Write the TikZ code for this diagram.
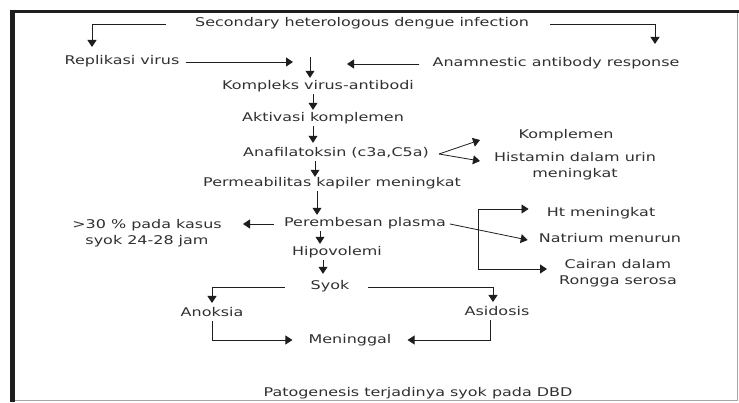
\documentclass[tikz,border=0pt]{standalone}
\usepackage{fontspec}
\setmainfont{DejaVu Sans}[FakeStretch=1.33]
\usetikzlibrary{arrows.meta}
\definecolor{txtc}{HTML}{303030}
\definecolor{linec}{HTML}{1E1E1E}
\newcommand{\fsz}{\fontsize{12}{15.5}\selectfont}
\tikzset{
  lbl/.style={inner sep=1pt, text=txtc, font=\fsz, align=center, text height=9pt, text depth=3pt},
  ln/.style={draw=linec, line width=0.8pt},
  arr/.style={draw=linec, line width=0.8pt, -{Triangle[length=7pt,width=9pt]}},
}
\begin{document}
\begin{tikzpicture}[x=1pt,y=-1pt]
\useasboundingbox (0,0) rectangle (739,403);
\fill[white] (0,0) rectangle (739,403);
% frame
\draw[line width=0.9pt, draw=gray!70] (12,11.5) -- (737.5,11.5) -- (737.5,400.5) -- (12,400.5);
\draw[line width=3.2pt, draw=linec] (10,11.5) -- (739,11.5);
\draw[line width=4.2pt, draw=linec] (12.5,10) -- (12.5,402);

% nodes
\node[lbl] (sec) at (362,24) {Secondary heterologous dengue infection};
\node[lbl] (rep) at (122,62) {Replikasi virus};
\node[lbl] (ana) at (556,64) {Anamnestic antibody response};
\node[lbl] (kom) at (318,87) {Kompleks virus-antibodi};
\node[lbl] (akt) at (323,119) {Aktivasi komplemen};
\node[lbl] (anaf) at (336,154) {Anafilatoksin (c3a,C5a)};
\node[lbl] (kompl) at (566,136) {Komplemen};
\node[lbl, text height=, text depth=] (hist) at (575,166) {Histamin dalam urin\\meningkat};
\node[lbl] (perm) at (332,184) {Permeabilitas kapiler meningkat};
\node[lbl] (peremb) at (365,224) {Perembesan plasma};
\node[lbl, text height=, text depth=] (pct) at (147,233) {>30 \% pada kasus\\syok 24-28 jam};
\node[lbl] (hipo) at (337,253) {Hipovolemi};
\node[lbl] (syok) at (330,287) {Syok};
\node[lbl] (anok) at (212,314) {Anoksia};
\node[lbl] (asid) at (497,313) {Asidosis};
\node[lbl] (men) at (350,340) {Meninggal};
\node[lbl] (ht) at (601,214) {Ht meningkat};
\node[lbl] (nat) at (610,240) {Natrium menurun};
\node[lbl, text height=, text depth=] (cair) at (618,273) {Cairan dalam\\Rongga serosa};
\node[lbl] (cap) at (418,393) {Patogenesis terjadinya syok pada DBD};

% free ends and corners
\coordinate (c1) at (92,47);
\coordinate (c2) at (655,44);
\coordinate (j0) at (310,57);
\coordinate (j1) at (293,62);
\coordinate (j2) at (347,64);
\coordinate (s1) at (313,0);
\coordinate (s2) at (315,0);
\coordinate (s3) at (317,0);
\coordinate (s4) at (320,0);
\coordinate (s5) at (323,0);
\coordinate (k1) at (480,140);
\coordinate (k2) at (480,161);
\coordinate (tp) at (243,224);
\coordinate (ta) at (212,303);
\coordinate (tb) at (493,302);
\coordinate (b1) at (478,209);
\coordinate (b2) at (478,269);

% connectors
\draw[arr] ([xshift=-28pt]sec.west) -| (c1);
\draw[arr] ([xshift=20pt]sec.east) -| (c2);
\draw[arr] ([xshift=5pt]rep.east) -- (j1);
\draw[arr] ([xshift=-12pt]ana.west) -- (j2);
\draw[arr, shorten >=2pt] (j0) -- (j0 |- kom.north);
\draw[arr, shorten >=2pt] (kom.south -| s1) -- (akt.north -| s1);
\draw[arr, shorten >=4pt] (akt.south -| s1) -- (anaf.north -| s1);
\draw[arr] (anaf.south -| s2) -- (perm.north -| s2);
\draw[arr, shorten >=2pt] (perm.south -| s3) -- (peremb.north -| s3);
\draw[arr, shorten >=2pt] (peremb.south -| s4) -- (hipo.north -| s4);
\draw[arr, shorten >=6pt] (hipo.south -| s5) -- (syok.north -| s5);
\draw[arr] ([xshift=9pt]anaf.east) -- (k1);
\draw[arr] ([xshift=9pt]anaf.east) -- (k2);
\draw[arr] ([xshift=-9pt]peremb.west) -- (tp);
\draw[arr] ([xshift=-25pt]syok.west) -| (ta);
\draw[arr] ([xshift=18pt]syok.east) -| (tb);
\draw[arr, shorten >=15pt] (anok.south) |- (men.west);
\draw[arr, shorten >=15pt] ([xshift=-7pt]asid.south) |- (men.east);
\draw[ln] (b1) -- (b2);
\draw[arr, shorten >=17pt] (b1) -- (b1 -| ht.west);
\draw[arr, shorten >=11pt] (b2) -- (b2 -| cair.west);
\draw[arr] ([xshift=3pt]peremb.east) -- ([xshift=-10pt]nat.west);
\end{tikzpicture}
\end{document}
